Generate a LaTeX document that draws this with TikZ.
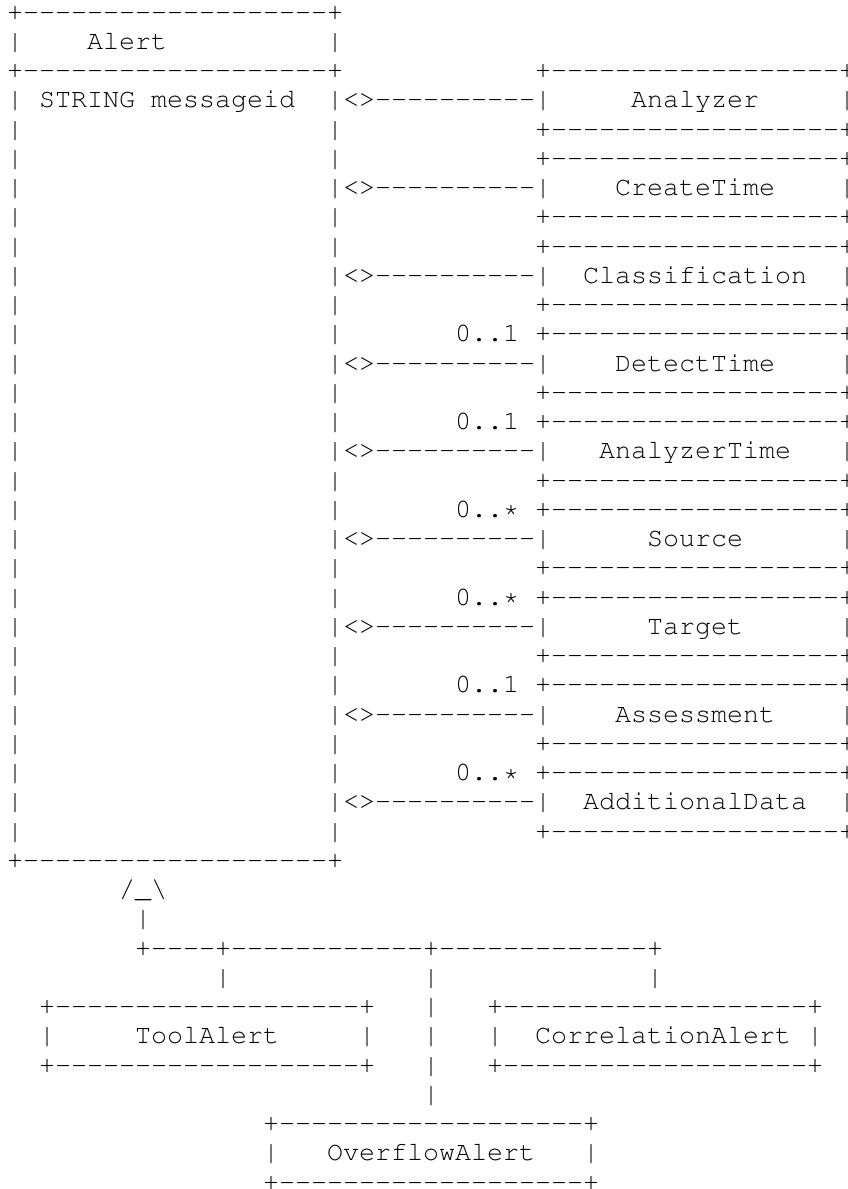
\documentclass[tikz,border=0pt]{standalone}
\usepackage[T1]{fontenc}

% Courier, set on a fixed character grid: 16pt per column, 29.25pt per line
\newcommand\asciifont{\fontencoding{T1}\fontfamily{pcr}\fontseries{m}\fontshape{n}\fontsize{26.67}{29.25}\selectfont}

% a run of #1 copies of #2, with ligatures broken
\ExplSyntaxOn
\NewDocumentCommand\rep{mm}{\prg_replicate:nn{#1}{#2{}}}
\ExplSyntaxOff

\tikzset{
  asc/.style={anchor=base west, inner sep=0pt, outer sep=0pt, font=\asciifont, text=black},
}

% one aggregated class box on the right: name, label, label column, top row
\newcommand\partbox[4]{%
  \node[asc] (#1-top) at (33,#4) {+\rep{18}{-}+};
  \node[asc] (#1-link) at (21,#4+1) {<>\rep{10}{-}};
  \node[asc] (#1-l) at (33,#4+1) {|};
  \node[asc] (#1) at (#3,#4+1) {#2};
  \node[asc] (#1-r) at (52,#4+1) {|};
  \node[asc] (#1-bot) at (33,#4+2) {+\rep{18}{-}+};
}

\begin{document}
\begin{tikzpicture}[x=16pt,y=-29.25pt]
\fill[white] (0pt,0pt) rectangle (848pt,-1189pt);
\useasboundingbox (0pt,0pt) rectangle (848pt,-1189pt);
\begin{scope}[shift={(7pt,-20pt)}]

% Alert class
\node[asc] (alert-top) at (0,0) {+\rep{19}{-}+};
\node[asc] (alert) at (5,1) {Alert};
\node[asc] (alert-mid) at (0,2) {+\rep{19}{-}+};
\node[asc] (messageid) at (2,3) {STRING messageid};
\foreach \y in {1,3,4,...,28} {
  \node[asc] (alert-l-\y) at (0,\y) {|};
  \node[asc] (alert-r-\y) at (20,\y) {|};
}
\node[asc] (alert-bot) at (0,29) {+\rep{19}{-}+};

% aggregated classes
\partbox{analyzer}{Analyzer}{39}{2}
\partbox{createtime}{CreateTime}{38}{5}
\partbox{classification}{Classification}{36}{8}
\partbox{detecttime}{DetectTime}{38}{11}
\partbox{analyzertime}{AnalyzerTime}{37}{14}
\partbox{source}{Source}{40}{17}
\partbox{target}{Target}{40}{20}
\partbox{assessment}{Assessment}{38}{23}
\partbox{additionaldata}{AdditionalData}{36}{26}

% multiplicities
\node[asc] (m-detecttime) at (28,11) {0..1};
\node[asc] (m-analyzertime) at (28,14) {0..1};
\node[asc] (m-source) at (28,17) {0..*};
\node[asc] (m-target) at (28,20) {0..*};
\node[asc] (m-assessment) at (28,23) {0..1};
\node[asc] (m-additionaldata) at (28,26) {0..*};

% generalization tree
\node[asc] (gen-tip) at (7,30) {/\_\textbackslash};
\node[asc] (gen-stem) at (8,31) {|};
\node[asc] (gen-bar) at (8,32) {+\rep{4}{-}+\rep{12}{-}+\rep{13}{-}+};
\node[asc] (gen-tool) at (13,33) {|};
\node[asc] (gen-corr) at (40,33) {|};
\foreach \y in {33,...,37} {
  \node[asc] (gen-over-\y) at (26,\y) {|};
}

% ToolAlert
\node[asc] (tool-top) at (2,34) {+\rep{19}{-}+};
\node[asc] (tool-l) at (2,35) {|};
\node[asc] (toolalert) at (8,35) {ToolAlert};
\node[asc] (tool-r) at (22,35) {|};
\node[asc] (tool-bot) at (2,36) {+\rep{19}{-}+};

% CorrelationAlert
\node[asc] (corr-top) at (30,34) {+\rep{19}{-}+};
\node[asc] (corr-l) at (30,35) {|};
\node[asc] (correlationalert) at (33,35) {CorrelationAlert};
\node[asc] (corr-r) at (50,35) {|};
\node[asc] (corr-bot) at (30,36) {+\rep{19}{-}+};

% OverflowAlert
\node[asc] (over-top) at (16,38) {+\rep{19}{-}+};
\node[asc] (over-l) at (16,39) {|};
\node[asc] (overflowalert) at (20,39) {OverflowAlert};
\node[asc] (over-r) at (36,39) {|};
\node[asc] (over-bot) at (16,40) {+\rep{19}{-}+};

\end{scope}
\end{tikzpicture}
\end{document}
